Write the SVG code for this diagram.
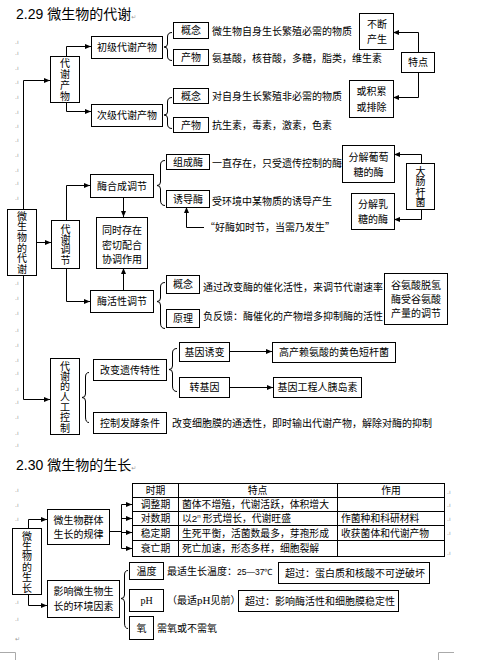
<svg xmlns="http://www.w3.org/2000/svg" width="477" height="660" viewBox="0 0 477 660">
<style>
text { font-family: "Noto Sans CJK SC", "Noto Sans", sans-serif; font-size: 10px; fill: #000; }
.t { font-size: 14px; }
.c { text-anchor: middle; }
.v { writing-mode: vertical-rl; text-anchor: middle; }
.box { fill: #fff; stroke: #000; stroke-width: 1; }
.ln { fill: none; stroke: #000; stroke-width: 1; }
.arr { marker-end: url(#ah); }
.mk { font-size: 6px; fill: #999; font-family: "DejaVu Sans", sans-serif; }
.ser { font-family: "Liberation Serif", serif; }
.lat { font-family: "Liberation Sans", sans-serif; }
.tb { font-size: 9.8px; }
.crop { fill: none; stroke: #aaa; stroke-width: 1; }
</style>
<defs>
<marker id="ah" markerWidth="6" markerHeight="6" refX="6" refY="3" orient="auto" markerUnits="userSpaceOnUse"><path d="M0,0.5 L6,3 L0,5.5 z" fill="#000"/></marker>
</defs>

<g id="titles">
<text class="t" x="16" y="19"><tspan class="lat">2.29 </tspan>微生物的代谢<tspan class="mk" font-size="9">↵</tspan></text>
<text class="t" x="16" y="470"><tspan class="lat">2.30 </tspan>微生物的生长<tspan class="mk" font-size="9">↵</tspan></text>
</g>

<g id="marks">
<text class="mk" x="15" y="44">.ı</text><text class="mk" x="15" y="55">.ı</text><text class="mk" x="15" y="70">.ı</text><text class="mk" x="15" y="84">.ı</text><text class="mk" x="15" y="99">.ı</text><text class="mk" x="15" y="114">.ı</text><text class="mk" x="15" y="128">.ı</text><text class="mk" x="15" y="142">.ı</text><text class="mk" x="15" y="157">.ı</text><text class="mk" x="15" y="172">.ı</text><text class="mk" x="15" y="185">.ı</text><text class="mk" x="15" y="200">.ı</text>
<text class="mk" x="15" y="285">.ı</text><text class="mk" x="15" y="300">.ı</text><text class="mk" x="15" y="315">.ı</text><text class="mk" x="15" y="332">.ı</text><text class="mk" x="15" y="347">.ı</text><text class="mk" x="15" y="362">.ı</text><text class="mk" x="15" y="375">.ı</text><text class="mk" x="15" y="391">.ı</text><text class="mk" x="15" y="404">.ı</text><text class="mk" x="15" y="419">.ı</text><text class="mk" x="15" y="435">.ı</text>
<text class="mk" x="15" y="447">.ı</text><text class="mk" x="15" y="492">.ı</text><text class="mk" x="15" y="507">.ı</text><text class="mk" x="15" y="521">.ı</text><text class="mk" x="15" y="604">.ı</text><text class="mk" x="15" y="621">.ı</text>
<text class="mk" x="15" y="641" font-size="9">↵</text>
<text class="mk" x="447" y="494">.ı</text><text class="mk" x="447" y="507">.ı</text><text class="mk" x="447" y="521">.ı</text><text class="mk" x="447" y="535">.ı</text><text class="mk" x="447" y="555">.ı</text>
<path class="crop" d="M0,652.5 H15.5 V660"/>
<path class="crop" d="M454,652.5 H438.5 V660"/>
</g>

<g id="connectors">
<path class="ln arr" d="M23.5,209 V80.5 H50"/>
<path class="ln arr" d="M23.5,275 V399.5 H50"/>
<path class="ln arr" d="M66.5,56 V46.5 H91"/>
<path class="ln arr" d="M66.5,102 V111.5 H91"/>
<path class="ln arr" d="M418.5,52 V32.5 H393"/>
<path class="ln arr" d="M418.5,72 V97.5 H393"/>
<path class="ln arr" d="M36,242.5 H51"/>
<path class="ln arr" d="M66.5,220 V185.5 H90"/>
<path class="ln arr" d="M66.5,268 V301.5 H90"/>
<path class="ln arr" d="M123.5,197 V217"/>
<path class="ln arr" d="M123.5,290 V268"/>
<path class="ln arr" d="M204,227.5 H186.5 V207"/>
<path class="ln arr" d="M421.5,163 V154.5 H394"/>
<path class="ln arr" d="M421.5,209 V219.5 H394"/>
<path class="ln arr" d="M229,351.5 H272"/>
<path class="ln arr" d="M229,387.5 H273"/>
<path class="ln arr" d="M28.5,528 V519.5 H47"/>
<path class="ln arr" d="M28.5,594 V605.5 H47"/>
<path class="ln" d="M109,531.5 H121.5 M121.5,504.5 V548.5"/>
<path class="ln arr" d="M121.5,504.5 H132"/>
<path class="ln arr" d="M121.5,518.5 H132"/>
<path class="ln arr" d="M121.5,532.5 H132"/>
<path class="ln arr" d="M121.5,548.5 H132"/>
<path class="ln" d="M172,32.5 Q167.5,32.5 167.5,37 L167.5,44 Q167.5,47 164,47 Q167.5,47 167.5,50 L167.5,56 Q167.5,60.5 172,60.5"/>
<path class="ln" d="M172,97.5 Q167.5,97.5 167.5,102 L167.5,112 Q167.5,115 164,115 Q167.5,115 167.5,118 L167.5,124 Q167.5,128.5 172,128.5"/>
<path class="ln" d="M165,160.5 Q160.5,160.5 160.5,165 L160.5,182 Q160.5,185.5 157,185.5 Q160.5,185.5 160.5,189 L160.5,200 Q160.5,205.5 165,205.5"/>
<path class="ln" d="M165,282.5 Q160.5,282.5 160.5,287 L160.5,298 Q160.5,301.5 157,301.5 Q160.5,301.5 160.5,305 L160.5,323 Q160.5,328.5 165,328.5"/>
<path class="ln" d="M89,372.5 Q85.5,372.5 85.5,377 L85.5,394 Q85.5,397.5 82,397.5 Q85.5,397.5 85.5,401 L85.5,417 Q85.5,422.5 89,422.5"/>
<path class="ln" d="M177,348.5 Q172.5,348.5 172.5,353 L172.5,366 Q172.5,369.5 169,369.5 Q172.5,369.5 172.5,373 L172.5,386 Q172.5,391.5 177,391.5"/>
<path class="ln" d="M128,570.5 Q124.5,570.5 124.5,575 L124.5,595 Q124.5,598.5 121,598.5 Q124.5,598.5 124.5,602 L124.5,623 Q124.5,628.5 128,628.5"/>
</g>

<g id="n-main1"><rect class="box" x="7.5" y="209.5" width="29" height="66"/>
<text class="v" x="22" y="243" letter-spacing="0.7">微生物的代谢</text></g>

<g id="n-chanwu"><rect class="box" x="50.5" y="56.5" width="29" height="46"/>
<text class="v" x="65" y="80" letter-spacing="1">代谢产物</text></g>

<g id="n-chuji"><rect class="box" x="91.5" y="36.5" width="71" height="22"/><text class="c" x="127" y="51.3">初级代谢产物</text></g>
<g id="n-ciji"><rect class="box" x="91.5" y="104.5" width="71" height="22"/><text class="c" x="127" y="119.3">次级代谢产物</text></g>

<g id="n-gn1"><rect class="box" x="173.5" y="22.5" width="35" height="16"/><text class="c" x="191" y="34.3">概念</text></g>
<g id="n-cw1"><rect class="box" x="173.5" y="49.5" width="35" height="16"/><text class="c" x="191" y="61.3">产物</text></g>
<g id="n-gn2"><rect class="box" x="173.5" y="88.5" width="35" height="15"/><text class="c" x="191" y="99.8">概念</text></g>
<g id="n-cw2"><rect class="box" x="173.5" y="117.5" width="35" height="15"/><text class="c" x="191" y="128.8">产物</text></g>
<g id="t-s1">
<text x="212" y="34.5">微生物自身生长繁殖必需的物质</text>
<text x="212" y="61.5">氨基酸，核苷酸，多糖，脂类，维生素</text>
<text x="212" y="100">对自身生长繁殖非必需的物质</text>
<text x="212" y="129">抗生素，毒素，激素，色素</text>
</g>
<g id="n-buduan"><rect class="box" x="359.5" y="13.5" width="34" height="36"/><text class="c" x="377" y="27.5">不断</text><text class="c" x="377" y="42.5">产生</text></g>
<g id="n-tedian"><rect class="box" x="401.5" y="52.5" width="33" height="20"/><text class="c" x="418" y="66">特点</text></g>
<g id="n-jilei"><rect class="box" x="349.5" y="80.5" width="44" height="37"/><text class="c" x="371.5" y="95">或积累</text><text class="c" x="371.5" y="110.5">或排除</text></g>

<g id="n-tiaojie"><rect class="box" x="51.5" y="220.5" width="28" height="48"/>
<text class="v" x="65.5" y="244.5" letter-spacing="0.3">代谢调节</text></g>
<g id="n-hecheng"><rect class="box" x="90.5" y="174.5" width="63" height="23"/><text class="c" x="122" y="189.5">酶合成调节</text></g>
<g id="n-huoxing"><rect class="box" x="90.5" y="290.5" width="63" height="22"/><text class="c" x="122" y="305.3">酶活性调节</text></g>
<g id="n-tongshi"><rect class="box" x="96.5" y="217.5" width="51" height="51"/><text class="c" x="122" y="233.8">同时存在</text><text class="c" x="122" y="248.5">密切配合</text><text class="c" x="122" y="263">协调作用</text></g>
<g id="n-zucheng"><rect class="box" x="166.5" y="154.5" width="43" height="15"/><text class="c" x="188" y="165.8">组成酶</text></g>
<g id="n-youdao"><rect class="box" x="166.5" y="190.5" width="43" height="17"/><text class="c" x="188" y="202.8">诱导酶</text></g>
<g id="t-s2">
<text x="212" y="166.5">一直存在，只受遗传控制的酶</text>
<text x="212" y="204.5">受环境中某物质的诱导产生</text>
<text x="205" y="231">“好酶如时节，当需乃发生”</text>
</g>
<g id="n-putao"><rect class="box" x="342.5" y="145.5" width="52" height="37"/><text class="c" x="368.5" y="160.8">分解葡萄</text><text class="c" x="368.5" y="175.8">糖的酶</text></g>
<g id="n-rutang"><rect class="box" x="351.5" y="193.5" width="43" height="36"/><text class="c" x="373" y="207.8">分解乳</text><text class="c" x="373" y="222.8">糖的酶</text></g>
<g id="n-dachang"><rect class="box" x="406.5" y="163.5" width="28" height="46"/>
<text class="v" x="420.5" y="187" letter-spacing="0.3">大肠杆菌</text></g>

<g id="n-gn3"><rect class="box" x="166.5" y="275.5" width="33" height="18"/><text class="c" x="183" y="288">概念</text></g>
<g id="n-yl"><rect class="box" x="166.5" y="309.5" width="33" height="18"/><text class="c" x="183" y="322">原理</text></g>
<g id="t-s3">
<text x="203" y="290.5">通过改变酶的催化活性，来调节代谢速率</text>
<text x="203" y="320">负反馈：酶催化的产物增多抑制酶的活性</text>
</g>
<g id="n-guan"><rect class="box" x="384.5" y="273.5" width="63" height="51"/><text class="c" x="416" y="288.8">谷氨酸脱氢</text><text class="c" x="416" y="302.8">酶受谷氨酸</text><text class="c" x="416" y="316.8">产量的调节</text></g>

<g id="n-rengong"><rect class="box" x="50.5" y="358.5" width="29" height="76"/>
<text class="v" x="65" y="397" letter-spacing="0.3">代谢的人工控制</text></g>
<g id="n-yichuan"><rect class="box" x="93.5" y="359.5" width="73" height="21"/><text class="c" x="130" y="373.8">改变遗传特性</text></g>
<g id="n-fajiao"><rect class="box" x="93.5" y="412.5" width="73" height="21"/><text class="c" x="130" y="426.8">控制发酵条件</text></g>
<text x="172" y="426.5">改变细胞膜的通透性，即时输出代谢产物，解除对酶的抑制</text>
<g id="n-youbian"><rect class="box" x="179.5" y="342.5" width="50" height="19"/><text class="c" x="204.5" y="355.8">基因诱变</text></g>
<g id="n-zhuan"><rect class="box" x="179.5" y="377.5" width="50" height="20"/><text class="c" x="204.5" y="391.3">转基因</text></g>
<g id="n-laian"><rect class="box" x="272.5" y="342.5" width="123" height="20"/><text class="c" x="334" y="356.3">高产赖氨酸的黄色短杆菌</text></g>
<g id="n-yidao"><rect class="box" x="273.5" y="377.5" width="88" height="20"/><text class="c" x="317.5" y="391.3">基因工程人胰岛素</text></g>

<g id="n-main2"><rect class="box" x="12.5" y="528.5" width="29" height="66"/>
<text class="v" x="27" y="562" letter-spacing="0.4">微生物的生长</text></g>
<g id="n-qunti"><rect class="box" x="47.5" y="509.5" width="62" height="35"/><text class="c" x="78.5" y="524">微生物群体</text><text class="c" x="78.5" y="537.5">生长的规律</text></g>
<g id="n-table">
<rect class="box" x="132.5" y="483.5" width="312" height="73"/>
<path class="ln" d="M132.5,497.5 H444.5 M132.5,511.5 H444.5 M132.5,525.5 H444.5 M132.5,540.5 H444.5 M178.5,483.5 V556.5 M337.5,483.5 V556.5"/>
<text class="c tb" x="155.5" y="494">时期</text><text class="c tb" x="257.5" y="494">特点</text><text class="c tb" x="391" y="494">作用</text>
<text class="c tb" x="155.5" y="508">调整期</text><text class="tb" x="182" y="508">菌体不增殖，代谢活跃，体积增大</text>
<text class="c tb" x="155.5" y="522">对数期</text><text class="tb" x="182" y="522">以<tspan class="lat">2</tspan><tspan class="lat" font-size="6" dy="-4">n</tspan><tspan dy="4"> 形式增长，代谢旺盛</tspan></text><text class="tb" x="341" y="522">作菌种和科研材料</text>
<text class="c tb" x="155.5" y="536.5">稳定期</text><text class="tb" x="182" y="536.5">生死平衡，活菌数最多，芽孢形成</text><text class="tb" x="341" y="536.5">收获菌体和代谢产物</text>
<text class="c tb" x="155.5" y="552">衰亡期</text><text class="tb" x="182" y="552">死亡加速，形态多样，细胞裂解</text>
</g>
<g id="n-huanjing"><rect class="box" x="47.5" y="580.5" width="72" height="37"/><text class="c" x="83.5" y="595">影响微生物生</text><text class="c" x="83.5" y="610">长的环境因素</text></g>
<g id="n-wendu"><rect class="box" x="129.5" y="562.5" width="34" height="17"/><text class="c" x="146.5" y="574.5">温度</text></g>
<text x="167" y="575" font-size="9.5">最适生长温度：<tspan class="lat" font-size="8.5">25—37℃</tspan></text>
<g id="n-chao1"><rect class="box" x="278.5" y="562.5" width="151" height="21"/><text x="285" y="576.5">超过：蛋白质和核酸不可逆破坏</text></g>
<g id="n-ph"><rect class="box" x="129.5" y="589.5" width="34" height="22"/><text class="c ser" x="146.5" y="604" font-size="11">pH</text></g>
<text x="167" y="604">（最适<tspan class="ser" font-size="11">pH</tspan>见前）</text>
<g id="n-chao2"><rect class="box" x="238.5" y="590.5" width="160" height="21"/><text x="245" y="604.5">超过：影响酶活性和细胞膜稳定性</text></g>
<g id="n-yang"><rect class="box" x="129.5" y="616.5" width="24" height="23"/><text class="c" x="141.5" y="631.5">氧</text></g>
<text x="157" y="631.5">需氧或不需氧</text>
</svg>
